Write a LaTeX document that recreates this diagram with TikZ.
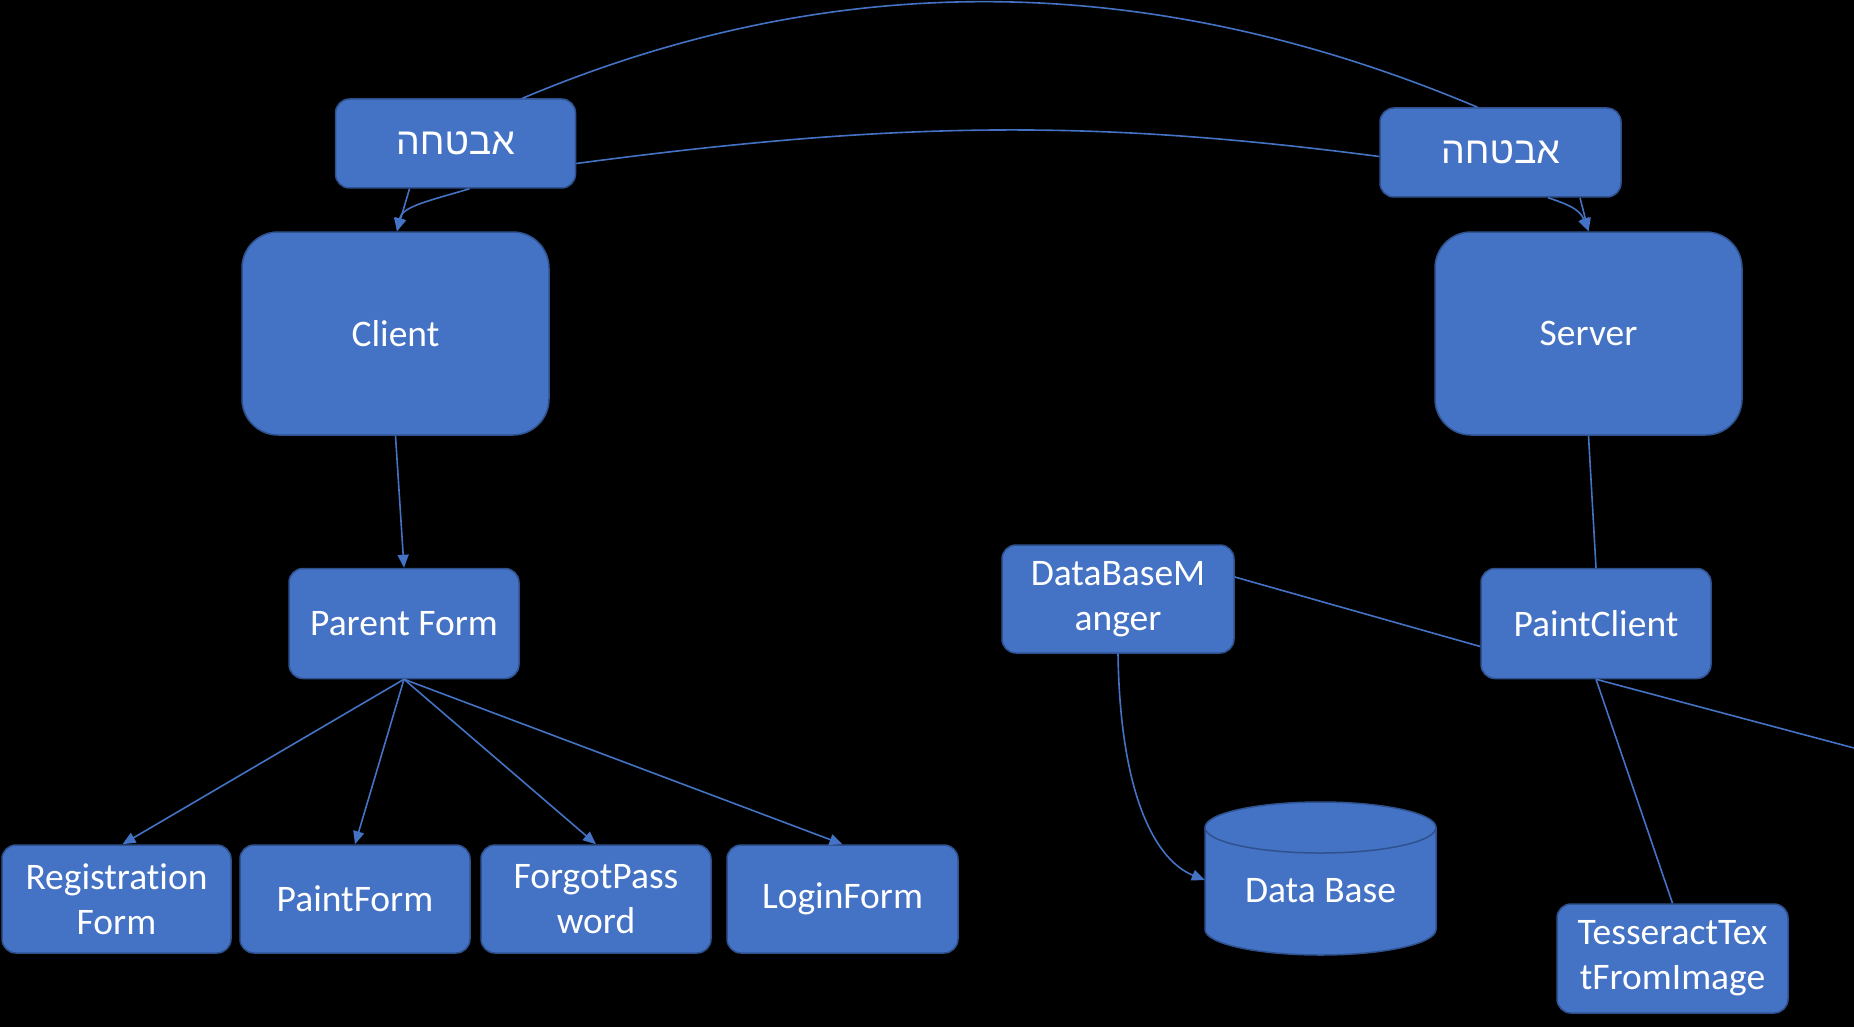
\documentclass[tikz,border=0pt]{standalone}
\usepackage{fontspec}
\setmainfont{Carlito}[Ligatures=NoCommon]
\newfontfamily\hebfont[Script=Hebrew]{Liberation Sans}
\TeXXeTstate=1
\usetikzlibrary{arrows.meta}
\definecolor{boxblue}{HTML}{4472C4}
\definecolor{boxedge}{HTML}{2F528F}
\begin{document}
\begin{tikzpicture}[x=1pt,y=-1pt,
  box/.style={draw=boxedge, line width=1.5pt, fill=boxblue, rounded corners=14pt,
    text=white, align=center, font=\fontsize{37.5}{45}\selectfont, inner sep=0pt},
  bigbox/.style={box, rounded corners=36pt},
  sz/.style 2 args={minimum width=#1pt, minimum height=#2pt},
  link/.style={draw=boxblue, line width=1.6pt},
  arr/.style={link, -{Triangle[length=13pt,width=11pt]}}
]
\path[use as bounding box, fill=black] (0,0) rectangle (1854,1027);

% nodes
\node[box, sz={240}{89}] (secL) at (455.5,143.5) {\hebfont\beginR אבטחה\endR};
\node[box, sz={241}{89}] (secR) at (1500.5,152.5) {\hebfont\beginR אבטחה\endR};
\node[bigbox, sz={307}{203}] (client) at (395.5,333.5) {Client};
\node[bigbox, sz={307}{203}] (server) at (1588.5,333.5) {Server};
\node[box, sz={230}{110}] (parent) at (404,623.5) {Parent Form};
\node[box, sz={230}{110}] (pc) at (1596,623.5) {PaintClient};
\node[box, sz={232}{108}] (dbm) at (1118,599) {DataBaseM\\anger};
\node[box, sz={229}{108}] (reg) at (116.5,899) {Registration\\Form};
\node[box, sz={230}{108}] (pf) at (355,899) {PaintForm};
\node[box, sz={230}{108}] (fp) at (596,899) {ForgotPass\\word};
\node[box, sz={231}{108}] (lf) at (842.5,899) {LoginForm};
\node[box, sz={231}{109}] (tess) at (1672.5,958.5) {TesseractTex\\tFromImage};

% database cylinder
\path[fill=boxblue, draw=boxedge, line width=1.5pt]
  (1205,827.5) -- (1205,929.5)
  arc[start angle=180, end angle=0, x radius=115.5, y radius=25.5]
  -- (1436,827.5)
  arc[start angle=0, end angle=-180, x radius=115.5, y radius=25.5] -- cycle;
\draw[draw=boxedge, line width=1.5pt] (1205,827.5)
  arc[start angle=180, end angle=0, x radius=115.5, y radius=25.5];
\node[text=white, font=\fontsize{37.5}{45}\selectfont, inner sep=0pt,
  minimum width=231pt, minimum height=1pt] (db) at (1320.5,891) {Data Base};

\coordinate (offR) at (1854,748);

% connectors
\draw[link] ([xshift=67pt]secL.north) .. controls (832,-32) and (1147,-32) .. ([xshift=-23pt]secR.north);
\draw[link] ([yshift=-20pt]secL.east) .. controls (904,120) and (1099,120) .. ([yshift=-4pt]secR.west);

\draw[arr] ([xshift=-46pt]secL.south) -- ([xshift=1.5pt]client.north);
\draw[arr] ([xshift=14pt]secL.south) .. controls +(-40,12) and +(5,-25) .. ([xshift=1.5pt]client.north);
\draw[arr] ([xshift=79.5pt]secR.south) -- (server.north);
\draw[arr] ([xshift=47.5pt]secR.south) .. controls +(25,8) and +(-8,-20) .. (server.north);

\draw[arr] (client.south) -- (parent.north);
\draw[arr] (parent.south) -- ([xshift=6pt]reg.north);
\draw[arr] (parent.south) -- (pf.north);
\draw[arr] (parent.south) -- (fp.north);
\draw[arr] (parent.south) -- (lf.north);

\draw[link] (server.south) -- (pc.north);
\draw[link] ([yshift=22pt]dbm.east) -- ([yshift=-23pt]pc.west);
\draw[link] (pc.south) -- (tess.north);
\draw[link] (pc.south) -- (offR);
\draw[arr] (dbm.south) .. controls +(2,140) and +(-50,-20) .. ([yshift=11pt]db.west);
\end{tikzpicture}
\end{document}
